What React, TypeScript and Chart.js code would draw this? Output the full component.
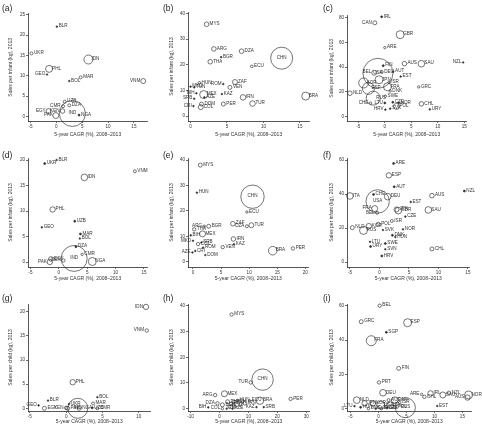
import { useEffect, useRef } from "react";
import { Chart, registerables } from "chart.js";

Chart.register(...registerables);

const FONT = '"Liberation Sans", Arial, Helvetica, sans-serif';
const INK = "#2b2b2b";
const X_TITLE = "5-year CAGR (%), 2008–2013";
const Y_INFANT = "Sales per infant (kg), 2013";
const Y_CHILD = "Sales per child (kg), 2013";

// ---- (a) ----
const aNames = ["BLR", "UKR", "PHL", "GEO", "IDN", "MAR", "BOL", "VNM", "UZB", "DZA", "CMR", "EGY", "KEN", "PAK", "IND", "NGA"];
const aCagr = [0.1, -4.8, -1.4, -1.8, 6.2, 4.7, 2.5, 16.8, 1.6, 2.5, 1.3, -1.5, 1.2, -0.1, 3.1, 4.4];
const aSales = [22.1, 15.5, 11.7, 10.3, 14.0, 9.6, 8.7, 8.7, 3.6, 2.7, 2.5, 1.3, 1.3, 0.2, 0.7, 0.3];
const aVolume = [2.6, 9, 49, 2.6, 81, 9, 2.6, 25, 9, 9, 9, 25, 21, 36, 676, 4];
const aLeft = ["GEO", "VNM", "CMR", "EGY", "KEN", "PAK"];

// ---- (b) ----
const bNames = ["MYS", "ARG", "BGR", "DZA", "THA", "ECU", "CHN", "MKD", "HUN", "TUN", "BIH", "MEX", "SRB", "AZE", "ROM", "ZAF", "VEN", "KAZ", "DOM", "COL", "PER", "IRN", "TUR", "CRI", "BRA"];
const bCagr = [2.2, 3.2, 4.2, 7.0, 2.7, 8.4, 12.5, 0.0, 1.2, 0.5, 0.8, 1.8, 0.5, 1.9, 4.5, 6.1, 5.4, 4.3, 1.5, 1.4, 4.5, 7.2, 8.5, 0.4, 15.8];
const bSales = [35.8, 26.2, 23.0, 25.3, 21.2, 19.4, 22.6, 11.5, 13.0, 11.2, 8.9, 8.4, 6.8, 7.3, 12.5, 13.3, 11.2, 8.6, 4.7, 3.5, 4.7, 7.3, 4.9, 3.9, 7.8];
const bVolume = [21, 21, 2.6, 21, 21, 6.8, 484, 2.6, 6.8, 2.6, 2.6, 64, 2.6, 2.6, 2.6, 25, 16, 2.6, 16, 25, 16, 31, 31, 2.6, 64];
const bLeft = ["BIH", "SRB", "ROM", "CRI"];

// ---- (c) ----
const cNames = ["CAN", "IRL", "GBR", "ARE", "NZL", "AUS", "SAU", "FIN", "AUT", "EST", "BEL", "USA", "DEU", "JPN", "FRA", "KOR", "ESP", "ISR", "DNK", "SWE", "RUS", "CHE", "NLD", "GRC", "CHL", "URY", "LTU", "CZE", "NOR", "POL", "SVK", "HRV"];
const cCagr = [-1.9, -0.6, 2.9, 0.0, 14.8, 3.7, 6.9, -0.3, 1.6, 3.0, -2.0, -1.3, -0.6, -1.1, 0.5, -4.0, -3.1, 0.8, 1.0, 0.1, -2.2, -2.7, -6.6, 6.4, 6.9, 8.5, 0.0, 1.5, 2.6, 2.2, 1.0, 0.1];
const cSales = [75.8, 80.7, 66.2, 55.7, 43.7, 42.7, 42.7, 41.1, 36.2, 32.3, 35.4, 34.9, 36.0, 29.7, 24.0, 27.1, 22.7, 27.6, 20.6, 16.4, 14.8, 10.7, 18.8, 23.9, 10.2, 5.7, 10.9, 11.5, 11.0, 8.1, 6.3, 5.5];
const cVolume = [16, 4, 64, 5.8, 2.6, 21, 44, 4, 2.6, 2.6, 25, 900, 9, 64, 64, 100, 144, 5.8, 5.8, 5.8, 196, 5.8, 21, 5.8, 21, 2.6, 4, 4, 4, 36, 2.6, 2.6];
const cLeft = ["CAN", "NZL", "BEL", "CHE", "LTU", "HRV"];

// ---- (d) ----
const dNames = ["BLR", "UKR", "IDN", "VNM", "PHL", "GEO", "UZB", "MAR", "BOL", "DZA", "CMR", "IND", "NGA", "EGY", "PAK", "KEN"];
const dCagr = [-0.4, -2.5, 4.5, 13.4, -1.1, -3.0, 2.8, 3.8, 3.7, 3.0, 4.1, 2.7, 5.9, -1.4, -1.6, 0.8];
const dSales = [20.0, 19.3, 16.6, 17.8, 10.3, 6.8, 8.0, 5.5, 4.6, 3.0, 1.5, 0.7, 0.1, 0.6, 0.0, 0.3];
const dVolume = [2.6, 4, 44, 9, 29, 2.6, 4, 4, 2.6, 4, 5.8, 676, 64, 21, 29, 11.6];
const dLeft = ["PAK", "KEN"];

// ---- (e) ----
const eNames = ["MYS", "HUN", "CHN", "ECU", "ARG", "BGR", "ZAF", "DZA", "TUR", "THA", "BIH", "MEX", "MKD", "COL", "SRB", "IRN", "KAZ", "VEN", "BRA", "PER", "ROM", "AZE", "CRI", "DOM"];
const eCagr = [1.3, 0.7, 10.6, 9.6, 2.0, 2.8, 7.1, 9.6, 10.4, 0.2, -0.4, 1.7, 0.0, 0.9, 1.5, 7.2, 7.3, 5.3, 14.2, 17.8, 1.8, -0.1, 0.4, 2.2];
const eSales = [38.0, 27.2, 25.6, 19.6, 14.0, 14.0, 15.0, 14.0, 14.4, 12.8, 10.4, 11.0, 8.3, 7.0, 7.6, 9.0, 6.9, 5.8, 4.4, 5.3, 5.6, 3.7, 4.3, 2.7];
const eVolume = [16, 2.6, 548, 5.8, 5.8, 16, 21, 9, 25, 11.6, 2.6, 36, 2.6, 11.6, 2.6, 21, 2.6, 11.6, 74, 11.6, 2.6, 2.6, 2.6, 2.6];
const eLeft = ["ARG", "DZA", "MKD", "AZE"];

// ---- (f) ----
const fNames = ["ARE", "ESP", "AUT", "NZL", "AUS", "ITA", "CHE", "DEU", "USA", "EST", "SAU", "GBR", "JPN", "BEL", "FRA", "CZE", "ISR", "NOR", "NLD", "RUS", "KOR", "POL", "SVK", "DNK", "HUN", "LTU", "URY", "SWE", "SVN", "CHL", "HRV"];
const fCagr = [2.4, 1.6, 2.5, 14.4, 8.9, -5.0, -1.0, 1.4, -0.3, 5.3, 8.3, 3.2, 2.9, -0.4, -0.8, 4.4, 2.1, 4.0, -4.6, -2.7, -1.8, -0.2, 0.6, 2.2, 2.7, -1.6, -1.5, 1.0, 1.0, 8.9, 0.4];
const fSales = [58.0, 51.0, 44.3, 41.8, 39.1, 38.9, 39.8, 38.5, 35.7, 35.4, 30.7, 30.3, 31.0, 29.0, 31.5, 26.8, 24.2, 19.3, 20.3, 18.7, 21.2, 22.3, 18.9, 15.8, 14.8, 12.0, 9.2, 11.0, 7.6, 7.8, 3.7];
const fVolume = [4, 29, 4, 4, 21, 44, 4, 44, 548, 2.6, 44, 44, 25, 9, 36, 2.6, 9, 2.6, 16, 64, 29, 16, 2.6, 4, 2.6, 2.6, 4, 4, 2.6, 16, 4];
const fLeft = ["BEL", "FRA"];

// ---- (g) ----
const gNames = ["IDN", "VNM", "PHL", "BOL", "BLR", "GEO", "EGY", "UKR", "MAR", "CMR", "IND", "KEN", "PAK", "NGA", "UZB"];
const gCagr = [11.0, 11.1, 0.9, 4.3, -2.5, -3.8, -3.0, 0.4, 3.7, 4.3, 1.6, 0.0, 0.2, 1.8, 3.6];
const gSales = [21.0, 16.1, 5.4, 2.3, 1.6, 0.6, 0.0, 0.9, 1.0, 0.0, 0.0, 0.1, 0.0, 0.0, 0.1];
const gVolume = [29, 11.6, 29, 2.6, 2.6, 2.6, 16, 2.6, 9, 9, 400, 11.6, 16, 16, 4];
const gLeft = ["IDN", "VNM", "GEO", "KEN"];

// ---- (h) ----
const hNames = ["MYS", "CHN", "TUR", "ARG", "MEX", "ECU", "IRN", "BRA", "KAZ", "SRB", "PER", "DZA", "BIH", "THA", "VEN", "HUN", "ROM", "DOM", "COL", "CRI", "AZE", "BGR"];
const hCagr = [4.2, 14.9, 10.8, -1.5, 1.7, 10.4, 8.8, 14.0, 12.8, 15.3, 24.6, -0.7, -3.9, 2.8, 5.0, 6.2, 4.0, 3.4, 1.0, 2.5, 4.5, 1.0];
const hSales = [36.6, 11.3, 10.2, 5.3, 5.8, 3.1, 2.2, 3.1, 0.6, 0.6, 3.8, 2.1, 0.5, 2.7, 2.7, 3.2, 2.0, 0.8, 0.0, 0.0, 0.0, 1.5];
const hVolume = [11.6, 458, 11.6, 11.6, 36, 5.8, 16, 55, 2.6, 2.6, 11.6, 11.6, 2.6, 16, 11.6, 5.8, 9, 9, 5.8, 2.6, 2.6, 16];
const hLeft = ["TUR", "ARG", "KAZ", "DZA", "BIH", "COL"];

// ---- (i) ----
const iNames = ["BEL", "GRC", "ESP", "SGP", "FRA", "FIN", "PRT", "DEU", "SAU", "ARE", "CHL", "IRL", "NZL", "NOR", "AUS", "EST", "RUS", "CAN", "NLD", "LTU", "JPN", "KOR", "USA", "ITA", "SWE", "DNK", "CZE", "POL", "HUN", "SVK", "AUT", "ISR"];
const iCagr = [0.2, -3.1, 5.2, 1.4, -1.3, 3.6, 0.1, 0.8, 11.5, 7.7, 8.2, 9.3, 12.6, 16.1, 15.9, 10.5, 4.8, 2.9, -3.9, -4.3, -2.5, -1.0, 0.4, 2.1, 0.5, -1.8, 1.5, 3.0, -3.2, -0.5, 1.8, 3.8];
const iSales = [60.0, 50.7, 50.1, 44.5, 39.6, 23.5, 15.3, 9.3, 8.0, 8.3, 6.9, 8.9, 9.3, 8.0, 6.5, 1.6, 0.6, 5.0, 5.0, 1.5, 3.1, 3.1, 2.1, 2.1, 0.0, 0.0, 0.5, 1.0, 0.8, 0.0, 5.0, 3.5];
const iVolume = [11.6, 16, 64, 4, 100, 16, 11.6, 44, 36, 5.8, 11.6, 29, 11.6, 64, 29, 2.6, 400, 44, 44, 2.6, 29, 29, 64, 44, 5.8, 5.8, 4, 9, 4, 2.6, 9, 5.8];
const iLeft = ["ARE", "AUS", "LTU"];

// tick labels
const ticksM5to15 = [-5, 0, 5, 10, 15];
const ticks0to15 = [0, 5, 10, 15];
const ticks0to20 = [0, 5, 10, 15, 20];
const ticks0to25 = [0, 5, 10, 15, 20, 25];
const ticks0to40 = [0, 10, 20, 30, 40];
const ticks0to60 = [0, 20, 40, 60];
const ticks0to80 = [0, 20, 40, 60, 80];
const ticksM5to10 = [-5, 0, 5, 10];
const ticksM10to30 = [-10, 0, 10, 20, 30];

// page grid
const COL_X = [0, 161, 321];
const COL_W = [161, 160, 161];
const ROW_Y = [0, 143, 287];
const ROW_H = [143, 144, 143];
const PLOT_LEFT = [28, 27, 26];
const PLOT_RIGHT_PAD = [3, 4, 6];
const PLOT_TOP = [12, 15, 17];
const PLOT_BOTTOM = [121, 124, 124];
const TAG_Y = [9, 13, 12];

interface PanelDef {
  tag: string;
  names: string[];
  cagr: number[];
  sales: number[];
  volume: number[];
  left: string[];
  xMin: number;
  xMax: number;
  yMin: number;
  yMax: number;
  xTicks: number[];
  yTicks: number[];
  yTitle: string;
}

const PANELS: PanelDef[] = [
  { tag: "(a)", names: aNames, cagr: aCagr, sales: aSales, volume: aVolume, left: aLeft, xMin: -5.48, xMax: 17.6, yMin: -1.15, yMax: 25.3, xTicks: ticksM5to15, yTicks: ticks0to25, yTitle: Y_INFANT },
  { tag: "(b)", names: bNames, cagr: bCagr, sales: bSales, volume: bVolume, left: bLeft, xMin: -0.35, xMax: 16.3, yMin: -1.9, yMax: 40.6, xTicks: ticks0to15, yTicks: ticks0to40, yTitle: Y_INFANT },
  { tag: "(c)", names: cNames, cagr: cCagr, sales: cSales, volume: cVolume, left: cLeft, xMin: -7.15, xMax: 15.4, yMin: -3.7, yMax: 81.6, xTicks: ticksM5to15, yTicks: ticks0to80, yTitle: Y_INFANT },
  { tag: "(d)", names: dNames, cagr: dCagr, sales: dSales, volume: dVolume, left: dLeft, xMin: -5.44, xMax: 15.6, yMin: -0.98, yMax: 20.4, xTicks: ticksM5to15, yTicks: ticks0to20, yTitle: Y_INFANT },
  { tag: "(e)", names: eNames, cagr: eCagr, sales: eSales, volume: eVolume, left: eLeft, xMin: -0.89, xMax: 20.6, yMin: -2.0, yMax: 40.8, xTicks: ticks0to20, yTicks: ticks0to40, yTitle: Y_INFANT },
  { tag: "(f)", names: fNames, cagr: fCagr, sales: fSales, volume: fVolume, left: fLeft, xMin: -5.5, xMax: 15.3, yMin: -2.8, yMax: 61.2, xTicks: ticksM5to15, yTicks: ticks0to60, yTitle: Y_INFANT },
  { tag: "(g)", names: gNames, cagr: gCagr, sales: gSales, volume: gVolume, left: gLeft, xMin: -5.26, xMax: 11.6, yMin: -0.56, yMax: 21.6, xTicks: ticksM5to10, yTicks: ticks0to20, yTitle: Y_CHILD },
  { tag: "(h)", names: hNames, cagr: hCagr, sales: hSales, volume: hVolume, left: hLeft, xMin: -10.9, xMax: 31.2, yMin: -0.9, yMax: 40.7, xTicks: ticksM10to30, yTicks: ticks0to40, yTitle: Y_CHILD },
  { tag: "(i)", names: iNames, cagr: iCagr, sales: iSales, volume: iVolume, left: iLeft, xMin: -5.64, xMax: 16.6, yMin: -1.34, yMax: 61, xTicks: ticksM5to15, yTicks: ticks0to60, yTitle: Y_CHILD },
];

// bubble radius in px from market volume
const radiusOf = (v: number) => Math.sqrt(v) / 2;

// country codes next to each bubble, plus the panel letter
const countryLabels = {
  id: "countryLabels",
  afterDatasetsDraw(chart: any) {
    const opts = chart.options.plugins.countryLabels;
    if (!opts) return;
    const { ctx } = chart;
    const meta = chart.getDatasetMeta(0);
    ctx.save();
    ctx.fillStyle = "#333";
    ctx.font = `4.6px ${FONT}`;
    ctx.textBaseline = "middle";
    meta.data.forEach((el: any, i: number) => {
      const name: string = opts.names[i];
      const r = radiusOf(opts.volume[i]);
      const y = el.y - 0.5;
      if (r > 7) {
        ctx.textAlign = "center";
        ctx.fillText(name, el.x, y);
      } else if (opts.left.includes(name)) {
        ctx.textAlign = "right";
        ctx.fillText(name, el.x - Math.min(r + 1, 3), y);
      } else {
        ctx.textAlign = "left";
        ctx.fillText(name, el.x + Math.min(r + 1, 3), y);
      }
    });
    ctx.fillStyle = "#222";
    ctx.font = `8.5px ${FONT}`;
    ctx.textAlign = "left";
    ctx.textBaseline = "middle";
    ctx.fillText(opts.tag, 2, opts.tagY);
    ctx.restore();
  },
};

function Panel({ def, row, col }: { def: PanelDef; row: number; col: number }) {
  const ref = useRef<HTMLCanvasElement>(null);
  useEffect(() => {
    if (!ref.current) return;
    const points = def.names.map((_, i) => ({
      x: def.cagr[i],
      y: def.sales[i],
      r: radiusOf(def.volume[i]),
    }));
    const axisGrid = {
      drawOnChartArea: false,
      drawTicks: true,
      tickLength: 2,
      color: INK,
      lineWidth: 0.7,
    };
    const tickFont = { family: FONT, size: 4.6 };
    const chart = new Chart(ref.current, {
      type: "bubble",
      data: {
        datasets: [
          {
            data: points,
            borderColor: INK,
            borderWidth: 0.65,
            backgroundColor: (c: any) =>
              c.raw && c.raw.r <= 1.05 ? INK : "rgba(0,0,0,0)",
            clip: false,
          } as any,
        ],
      },
      options: {
        responsive: false,
        animation: false,
        events: [],
        layout: {
          padding: { left: 0, top: PLOT_TOP[row], right: PLOT_RIGHT_PAD[col], bottom: 0 },
        },
        scales: {
          x: {
            type: "linear",
            position: "bottom",
            min: def.xMin,
            max: def.xMax,
            afterFit: (s: any) => {
              s.height = ROW_H[row] - PLOT_BOTTOM[row];
            },
            afterBuildTicks: (s: any) => {
              s.ticks = def.xTicks.map((v) => ({ value: v }));
            },
            grid: axisGrid,
            border: { display: true, color: INK, width: 0.8 },
            ticks: { font: tickFont, color: "#333", padding: 1, maxRotation: 0, autoSkip: false },
            title: {
              display: true,
              text: X_TITLE,
              font: { family: FONT, size: 5 },
              color: "#333",
              padding: { top: 0, bottom: 5 },
            },
          },
          y: {
            type: "linear",
            position: "left",
            min: def.yMin,
            max: def.yMax,
            afterFit: (s: any) => {
              s.width = PLOT_LEFT[col];
            },
            afterBuildTicks: (s: any) => {
              s.ticks = def.yTicks.map((v) => ({ value: v }));
            },
            grid: axisGrid,
            border: { display: true, color: INK, width: 0.8 },
            ticks: { font: tickFont, color: "#333", padding: 1, autoSkip: false },
            title: {
              display: true,
              text: def.yTitle,
              font: { family: FONT, size: 5 },
              color: "#333",
              padding: { top: 8, bottom: 0 },
            },
          },
        },
        plugins: {
          legend: { display: false },
          tooltip: { enabled: false },
          countryLabels: {
            names: def.names,
            volume: def.volume,
            left: def.left,
            tag: def.tag,
            tagY: TAG_Y[row],
          },
        } as any,
      },
      plugins: [countryLabels],
    });
    return () => chart.destroy();
  }, [def, row, col]);

  return (
    <canvas
      ref={ref}
      width={COL_W[col]}
      height={ROW_H[row]}
      style={{
        position: "absolute",
        left: COL_X[col],
        top: ROW_Y[row],
        width: COL_W[col],
        height: ROW_H[row],
        display: "block",
      }}
    />
  );
}

export default function App() {
  return (
    <div
      style={{
        position: "absolute",
        left: 0,
        top: 0,
        width: 482,
        height: 430,
        background: "#fff",
        overflow: "hidden",
      }}
    >
      {PANELS.map((def, k) => (
        <Panel key={def.tag} def={def} row={Math.floor(k / 3)} col={k % 3} />
      ))}
    </div>
  );
}
